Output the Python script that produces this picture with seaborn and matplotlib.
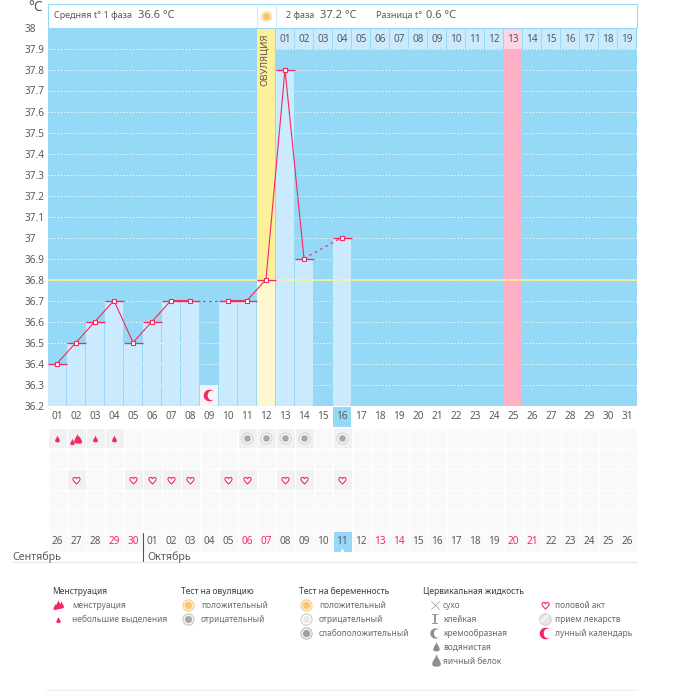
"""Basal temperature chart with cycle calendar and symptom legend"""

import numpy as np
import pandas as pd
import matplotlib
matplotlib.use('Agg')
import matplotlib.pyplot as plt
import seaborn as sns
from matplotlib.colors import ListedColormap
from matplotlib.path import Path
from matplotlib.transforms import blended_transform_factory

# data
days = list(range(1, 32))
temps = [36.4, 36.5, 36.6, 36.7, 36.5, 36.6, 36.7, 36.7, None, 36.7, 36.7, 36.8, 37.8, 36.9, None, 37.0]
solid_runs = [[1, 2, 3, 4, 5, 6, 7, 8], [10, 11, 12, 13, 14]]
dashed_runs = [[8, 10], [14, 16]]
ovulation_day = 12
peak_day = 25
today = 16
moon_day = 9
moon_level = 36.3
cover_line = 36.8
y_ticks = [38, 37.9, 37.8, 37.7, 37.6, 37.5, 37.4, 37.3, 37.2, 37.1, 37, 36.9, 36.8, 36.7, 36.6, 36.5, 36.4, 36.3, 36.2]
phase2_start = 13
phase2_labels = ['01', '02', '03', '04', '05', '06', '07', '08', '09', '10', '11', '12', '13', '14', '15', '16', '17', '18', '19']
date_labels = ['26', '27', '28', '29', '30', '01', '02', '03', '04', '05', '06', '07', '08', '09', '10', '11',
               '12', '13', '14', '15', '16', '17', '18', '19', '20', '21', '22', '23', '24', '25', '26']
weekend_days = [4, 5, 11, 12, 18, 19, 25, 26]
spotting_days = [1, 3, 4]
period_days = [2]
neg_test_days = [11, 12, 13, 14, 16]
heart_days = [2, 5, 6, 7, 8, 10, 11, 13, 14, 16]
months = ['Сентябрь', 'Октябрь']

PINK = '#f5295f'
BRIGHT = '#95d9f6'
LIGHT = '#cbeafd'
TEXT = '#5a5a5a'

# marker shapes
DROP = Path([(0, 1), (0.2, 0.4), (0.6, 0.1), (0.6, -0.4), (0.6, -0.85), (-0.6, -0.85), (-0.6, -0.4), (-0.6, 0.1), (-0.2, 0.4), (0, 1)],
            [1, 4, 4, 4, 4, 4, 4, 4, 4, 4])
HEART = Path([(0, -1), (-0.5, -0.45), (-1, -0.1), (-1, 0.4), (-1, 1), (-0.2, 1.05), (0, 0.45),
              (0.2, 1.05), (1, 1), (1, 0.4), (1, -0.1), (0.5, -0.45), (0, -1), (0, -1)],
             [1, 4, 4, 4, 4, 4, 4, 4, 4, 4, 4, 4, 4, 79])
angles = np.linspace(np.pi * 0.3, np.pi * 1.7, 30)
MOON = Path(np.vstack([np.column_stack([np.cos(angles), np.sin(angles)]),
                       np.column_stack([0.62 * np.cos(angles[::-1]) + 0.32, 0.81 * np.sin(angles[::-1])])]))

sns.set_theme(style='white')
plt.rcParams['font.family'] = ['Noto Sans', 'DejaVu Sans']

W, H = 675, 691
fig = plt.figure(figsize=(W / 100, H / 100), dpi=100, facecolor='white')


def px_axes(left, top, right, bottom, **kw):
    return fig.add_axes([left / W, 1 - bottom / H, (right - left) / W, (bottom - top) / H], **kw)


chrome = px_axes(0, 0, W, H)
chrome.set_xlim(0, W)
chrome.set_ylim(H, 0)
chrome.axis('off')
chrome.set_zorder(5)

ax = px_axes(47.5, 27.5, 636.5, 405.5)
ax.set_facecolor(BRIGHT)

# bars
bar_df = pd.DataFrame({'day': days[:len(temps)], 'temp': temps}).dropna()
bar_df['kind'] = np.where(bar_df['day'] == ovulation_day, 'ovulation', 'normal')
bar_df = pd.concat([bar_df, pd.DataFrame({'day': [moon_day], 'temp': [moon_level], 'kind': ['moon']})]).sort_values('day')
sns.barplot(data=bar_df, x='day', y='temp', hue='kind', native_scale=True, dodge=False, width=0.93,
            palette={'normal': LIGHT, 'ovulation': '#fef7cf', 'moon': '#f4f4f6'}, saturation=1,
            errorbar=None, legend=False, linewidth=0, zorder=1, ax=ax)

# grid and bands
ax.hlines(y_ticks[1:-1], 0.5, 31.5, colors='white', linewidth=0.75, linestyles=(0, (1, 2)), zorder=0.5)
ax.axvspan(ovulation_day - 0.47, ovulation_day + 0.47, color='#fdf09a', lw=0, zorder=0.7)
ax.axvspan(peak_day - 0.47, peak_day + 0.47, ymax=1.7 / 1.8, color='#feb0c6', lw=0, zorder=0.7)
ax.axhline(cover_line, color='#fdf09a', linewidth=1.1, zorder=3)

# phase 2 day numbers
for i, label in enumerate(phase2_labels):
    d = phase2_start + i
    ax.axvspan(d - 0.475, d + 0.475, ymin=1.7 / 1.8, color='#fdd5e3' if d == peak_day else LIGHT, lw=0, zorder=1)
    ax.text(d, 37.943, label, ha='center', va='center', fontsize=7.2, color=TEXT, zorder=6)
ax.text(ovulation_day - 0.1, 37.845, 'ОВУЛЯЦИЯ', rotation=90, ha='center', va='center', fontsize=6.9, color=TEXT, zorder=6)

# temperature curve
valid = bar_df[bar_df['kind'] != 'moon']
ax.hlines(valid['temp'], valid['day'] - 0.5, valid['day'] + 0.5, colors=PINK, linewidth=0.95, zorder=4)
temp_by_day = dict(zip(valid['day'], valid['temp']))
for run in solid_runs:
    sns.lineplot(x=run, y=[temp_by_day[d] for d in run], color=PINK, linewidth=0.8, estimator=None, zorder=4, ax=ax)
for run in dashed_runs:
    sns.lineplot(x=run, y=[temp_by_day[d] for d in run], color=PINK, linewidth=0.8, linestyle=(0, (2.5, 3)), estimator=None, zorder=4, ax=ax)
sns.scatterplot(data=valid, x='day', y='temp', marker='s', s=9, color='white', edgecolor=PINK, linewidth=0.8, zorder=5, ax=ax)
sns.scatterplot(x=[moon_day], y=[36.25], marker=MOON, s=70, color=PINK, linewidth=0, zorder=5, ax=ax)

ax.set_xlim(0.5, 31.5)
ax.set_ylim(36.2, 38)
ax.set_xticks([])
ax.set_xlabel('')
ax.set_ylabel('')
ax.set_yticks(y_ticks)
ax.set_yticklabels([f'{t:g}' for t in y_ticks], ha='left', fontsize=7.2, color=TEXT)
ax.tick_params(axis='y', length=0, pad=16.5)
sns.despine(ax=ax, left=True, bottom=True)
chrome.text(28.5, 7, '°C', fontsize=10, color=TEXT, ha='left', va='center')

# header strip
chrome.add_patch(plt.Rectangle((47.5, 3.5), 589, 24, fc='white', ec=BRIGHT, lw=0.8))
chrome.plot([256.5, 256.5], [3.5, 27], color=LIGHT, lw=0.8)
chrome.plot([275.5, 275.5], [3.5, 27], color=LIGHT, lw=0.8)


def head(x, s, size=6.5):
    chrome.text(x, 15.5, s, fontsize=size, color=TEXT, ha='left', va='center')


head(54.5, 'Средняя t° 1 фаза')
head(138.5, '36.6 °C', 8)
head(286.5, '2 фаза')
head(320.5, '37.2 °C', 8)
head(376.5, 'Разница t°')
head(426, '0.6 °C', 8)
chrome.scatter([266], [16], s=70, c='#fde9b8', linewidths=0)
chrome.scatter([266], [16], s=26, c='#f9c46b', linewidths=0)

# calendar rows
cal = px_axes(47.5, 427.5, 636.5, 551.5)
grid = np.zeros((6, 31), dtype=int)
grid[0, [d - 1 for d in spotting_days + period_days + neg_test_days]] = 1
grid[2, [d - 1 for d in heart_days]] = 1
grid[5, today - 1] = 2
sns.heatmap(grid, cmap=ListedColormap(['#f9f9fb', '#f1f1f3', BRIGHT]), vmin=0, vmax=2, cbar=False,
            linewidths=0.7, linecolor='white', xticklabels=False, yticklabels=False, ax=cal)
for d in neg_test_days:
    cal.scatter([d - 0.5], [0.53], s=62, c='white', edgecolors='#c4c4c4', linewidths=0.6, zorder=3)
    cal.scatter([d - 0.5], [0.53], s=24, c='#a8a8a8', edgecolors='#d0d0d0', linewidths=0.4, zorder=4)
cal.scatter([d - 0.5 for d in spotting_days], [0.58] * len(spotting_days), marker=DROP, s=32, c=PINK, linewidths=0, zorder=3)
for off, y, s in [(-0.2, 0.72, 28), (0.05, 0.55, 62), (0.18, 0.6, 38)]:
    cal.scatter([d - 0.5 + off for d in period_days], [y] * len(period_days), marker=DROP, s=s, c=PINK, linewidths=0, zorder=3)
cal.scatter([d - 0.5 for d in heart_days], [2.53] * len(heart_days), marker=HEART, s=28, c='white', edgecolors=PINK, linewidths=0.8, zorder=3)
cal.scatter([today - 0.5], [5.95], marker='^', s=10, c='white', linewidths=0, zorder=3)
for i, label in enumerate(date_labels):
    cal.text(i + 0.5, 5.53, label, ha='center', va='center', fontsize=7.2,
             color=PINK if i + 1 in weekend_days else TEXT, zorder=4)

# cycle day labels under the plot
tr = blended_transform_factory(ax.transData, chrome.transData)
chrome.add_patch(plt.Rectangle((today - 0.475, 407), 0.95, 20, transform=tr, fc=BRIGHT, ec='none'))
for d in days:
    chrome.text(d, 416.7, f'{d:02d}', transform=tr, ha='center', va='center', fontsize=7.2, color=TEXT)

# months
chrome.text(12, 557, months[0], fontsize=7.7, color=TEXT, ha='left', va='center')
chrome.text(147, 557, months[1], fontsize=7.7, color=TEXT, ha='left', va='center')
chrome.plot([142.5, 142.5], [533, 562], color='#555555', lw=0.8)
chrome.plot([12, 636.5], [562, 562], color='#e8e8e8', lw=0.9)
chrome.plot([46, 636.5], [690, 690], color='#eeeeee', lw=0.9)


# legend
def legend_head(x, y, s):
    chrome.text(x, y, s, fontsize=6.05, color='#3c3c3c', ha='left', va='center')


def legend_item(x, y, s):
    chrome.text(x, y, s, fontsize=6.05, color='#6a6a6a', ha='left', va='center')


def ring(x, y, face, core, edge):
    chrome.scatter([x], [y], s=66, c=face, edgecolors=edge, linewidths=0.7, zorder=3)
    chrome.scatter([x], [y], s=26, c=core, linewidths=0, zorder=4)


legend_head(52, 591, 'Менструация')
for off, dy, s in [(-3.5, 2, 24), (0, 0, 55), (2.5, 0.5, 34)]:
    chrome.scatter([58 + off], [604.5 + dy], marker=DROP, s=s, c=PINK, linewidths=0, zorder=3)
legend_item(72, 605, 'менструация')
chrome.scatter([57.5], [619.5], marker=DROP, s=26, c=PINK, linewidths=0)
legend_item(72, 619, 'небольшие выделения')

legend_head(181, 591, 'Тест на овуляцию')
ring(187.5, 605, '#fdeac3', '#f8c66f', '#f3cf8d')
legend_item(201, 605, 'положительный')
ring(187.5, 619, '#f3f3f3', '#a8a8a8', '#c4c4c4')
legend_item(201, 619, 'отрицательный')

legend_head(299, 591, 'Тест на беременность')
ring(306, 604.5, '#fdeac3', '#f8c66f', '#f3cf8d')
legend_item(319, 605, 'положительный')
ring(306, 618.5, '#ffffff', '#e8e8e8', '#c8c8c8')
legend_item(319, 619, 'отрицательный')
ring(306, 632.5, '#eeeeee', '#a0a0a0', '#b8b8b8')
legend_item(319, 633, 'слабоположительный')

legend_head(423, 591, 'Цервикальная жидкость')
chrome.scatter([435], [605], marker='x', s=38, c='#9a9a9a', linewidths=0.5)
chrome.scatter([435], [619], marker='$\\mathtt{I}$', s=60, c='#9a9a9a', linewidths=0)
chrome.scatter([435], [633], marker=MOON, s=55, c='#8f8f8f', linewidths=0)
chrome.scatter([435.5], [647], marker=DROP, s=60, c='#8f8f8f', linewidths=0)
chrome.scatter([435.5], [661], marker=DROP, s=105, c='#8f8f8f', linewidths=0)
for y, s in zip([605, 619, 633, 647, 661], ['сухо', 'клейкая', 'кремообразная', 'водянистая', 'яичный белок']):
    legend_item(443, y, s)

chrome.scatter([544.5], [604.5], marker=HEART, s=28, c='white', edgecolors=PINK, linewidths=0.8)
legend_item(555, 605, 'половой акт')
chrome.scatter([544.5], [618.5], s=70, c='#e6e6e6', edgecolors='#c8c8c8', linewidths=0.6, zorder=3)
chrome.plot([541, 548], [622, 615], color='white', lw=1, zorder=4)
legend_item(555, 619, 'прием лекарств')
chrome.scatter([544.5], [633], marker=MOON, s=70, c=PINK, linewidths=0)
legend_item(555, 633, 'лунный календарь')

fig.savefig('out.png', dpi=100)
plt.close(fig)
